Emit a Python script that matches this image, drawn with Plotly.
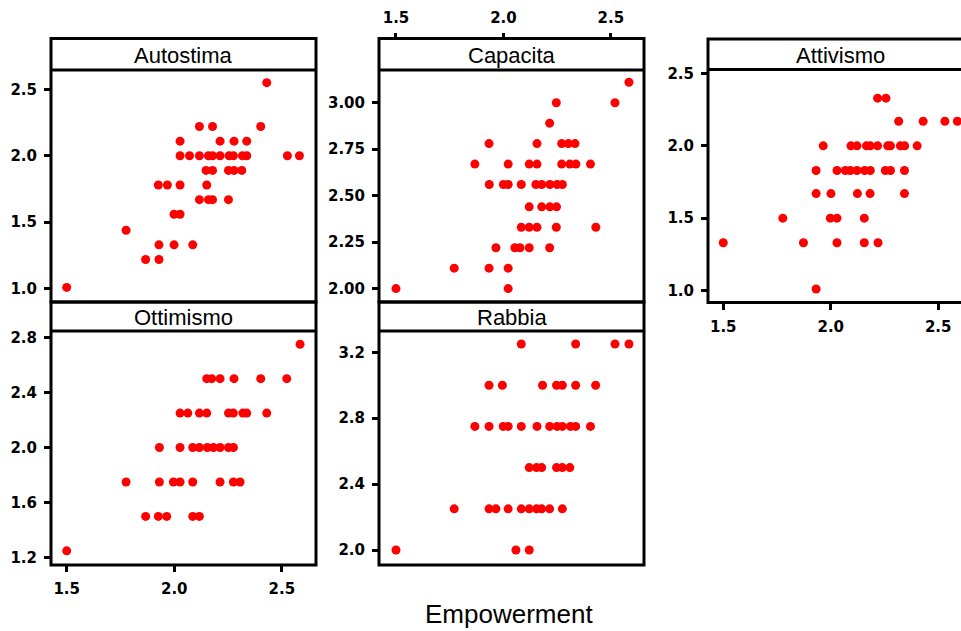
import plotly.graph_objects as go

W, H = 961, 631

# ---- data: Empowerment (x) against each sub-scale (y) ----
autostima_x = [1.50, 1.776, 1.867, 1.929, 1.929, 1.999, 2.086, 1.999, 2.027,
               2.117, 2.159, 2.178, 2.252, 1.926, 1.968, 2.027, 2.151,
               2.148, 2.178, 2.252, 2.278, 2.314,
               2.027, 2.071, 2.117, 2.159, 2.178, 2.213, 2.255, 2.275, 2.317, 2.337, 2.526, 2.582,
               2.027, 2.213, 2.278, 2.337, 2.117, 2.178, 2.402, 2.430]
autostima_y = [1.01, 1.44, 1.22, 1.22, 1.33, 1.33, 1.33, 1.56, 1.56,
               1.67, 1.67, 1.67, 1.67, 1.78, 1.78, 1.78, 1.78,
               1.89, 1.89, 1.89, 1.89, 1.89,
               2.00, 2.00, 2.00, 2.00, 2.00, 2.00, 2.00, 2.00, 2.00, 2.00, 2.00, 2.00,
               2.11, 2.11, 2.11, 2.11, 2.22, 2.22, 2.22, 2.55]

capacita_x = [2.584, 2.246, 2.519, 2.215,
              1.933, 2.156, 2.271, 2.302, 2.333,
              1.867, 2.022, 2.120, 2.156, 2.271, 2.309, 2.337, 2.405,
              1.934, 2.000, 2.022, 2.083, 2.151, 2.178, 2.216, 2.250, 2.274,
              2.120, 2.178, 2.216, 2.247,
              2.083, 2.120, 2.156, 2.246, 2.430,
              1.965, 2.053, 2.077, 2.120, 2.215,
              1.771, 1.933, 2.022,
              1.500, 2.022]
capacita_y = [3.11, 3.00, 3.00, 2.89,
              2.78, 2.78, 2.78, 2.78, 2.78,
              2.67, 2.67, 2.67, 2.67, 2.67, 2.67, 2.67, 2.67,
              2.56, 2.56, 2.56, 2.56, 2.56, 2.56, 2.56, 2.56, 2.56,
              2.44, 2.44, 2.44, 2.44,
              2.33, 2.33, 2.33, 2.33, 2.33,
              2.22, 2.22, 2.22, 2.22, 2.22,
              2.11, 2.11, 2.11,
              2.00, 2.00]

attivismo_x = [2.218, 2.257,
               2.316, 2.430, 2.531, 2.589,
               1.965, 2.094, 2.122, 2.166, 2.184, 2.218, 2.265, 2.278, 2.324, 2.344, 2.402,
               1.932, 2.029, 2.068, 2.091, 2.122, 2.158, 2.184, 2.254, 2.278, 2.343,
               1.932, 2.001, 2.124, 2.183, 2.343,
               1.777, 1.998, 2.029, 2.156,
               1.500, 1.873, 2.029, 2.156, 2.220,
               1.932]
attivismo_y = [2.33, 2.33,
               2.17, 2.17, 2.17, 2.17,
               2.00, 2.00, 2.00, 2.00, 2.00, 2.00, 2.00, 2.00, 2.00, 2.00, 2.00,
               1.83, 1.83, 1.83, 1.83, 1.83, 1.83, 1.83, 1.83, 1.83, 1.83,
               1.67, 1.67, 1.67, 1.67, 1.67,
               1.50, 1.50, 1.50, 1.50,
               1.33, 1.33, 1.33, 1.33, 1.33,
               1.01]

ottimismo_x = [2.585,
               2.151, 2.174, 2.213, 2.278, 2.402, 2.523,
               2.027, 2.063, 2.117, 2.151, 2.252, 2.275, 2.319, 2.337, 2.430,
               1.931, 2.027, 2.086, 2.117, 2.154, 2.182, 2.213, 2.252, 2.275,
               1.776, 1.931, 1.996, 2.027, 2.086, 2.213, 2.275, 2.306,
               1.867, 1.926, 1.965, 2.086, 2.117,
               1.500]
ottimismo_y = [2.75,
               2.50, 2.50, 2.50, 2.50, 2.50, 2.50,
               2.25, 2.25, 2.25, 2.25, 2.25, 2.25, 2.25, 2.25, 2.25,
               2.00, 2.00, 2.00, 2.00, 2.00, 2.00, 2.00, 2.00, 2.00,
               1.75, 1.75, 1.75, 1.75, 1.75, 1.75, 1.75, 1.75,
               1.50, 1.50, 1.50, 1.50, 1.50,
               1.25]

rabbia_x = [2.083, 2.336, 2.519, 2.584,
            1.933, 1.995, 2.182, 2.247, 2.274, 2.336, 2.429,
            1.867, 1.933, 1.999, 2.022, 2.083, 2.156, 2.215, 2.250, 2.274, 2.312, 2.336, 2.405,
            2.120, 2.154, 2.178, 2.247, 2.274, 2.309,
            1.771, 1.933, 1.965, 2.022, 2.083, 2.120, 2.154, 2.178, 2.215, 2.274,
            1.500, 2.058, 2.120]
rabbia_y = [3.25, 3.25, 3.25, 3.25,
            3.00, 3.00, 3.00, 3.00, 3.00, 3.00, 3.00,
            2.75, 2.75, 2.75, 2.75, 2.75, 2.75, 2.75, 2.75, 2.75, 2.75, 2.75, 2.75,
            2.50, 2.50, 2.50, 2.50, 2.50, 2.50,
            2.25, 2.25, 2.25, 2.25, 2.25, 2.25, 2.25, 2.25, 2.25, 2.25,
            2.00, 2.00, 2.00]

x_ticks = [1.5, 2.0, 2.5]
x_title = "Empowerment"


def fx(p):
    return p / W


def fy(p):
    return 1 - p / H


# panel geometry in pixels: (left, right), strip top, strip bottom, plot bottom
panels = [
    dict(title="Autostima", x=autostima_x, y=autostima_y,
         px=(51, 316), strip=(38.5, 70), bottom=302, xr=(1.427, 2.659),
         yr=(0.90, 2.645), tick0=1.0, dtick=0.5, fmt=".1f", xside=None),
    dict(title="Capacita", x=capacita_x, y=capacita_y,
         px=(379, 644), strip=(38.5, 70), bottom=302, xr=(1.421, 2.654),
         yr=(1.928, 3.176), tick0=2.0, dtick=0.25, fmt=".2f", xside="top"),
    dict(title="Attivismo", x=attivismo_x, y=attivismo_y,
         px=(708, 961), strip=(39, 69.5), bottom=302.5, xr=(1.429, 2.606),
         yr=(0.917, 2.528), tick0=1.0, dtick=0.5, fmt=".1f", xside="bottom",
         open_right=True),
    dict(title="Ottimismo", x=ottimismo_x, y=ottimismo_y,
         px=(51, 316), strip=(302, 331), bottom=565, xr=(1.427, 2.659),
         yr=(1.147, 2.846), tick0=1.2, dtick=0.4, fmt=".1f", xside="bottom"),
    dict(title="Rabbia", x=rabbia_x, y=rabbia_y,
         px=(379, 644), strip=(302, 331), bottom=565, xr=(1.421, 2.654),
         yr=(1.909, 3.329), tick0=2.0, dtick=0.4, fmt=".1f", xside=None),
]

tick_font = dict(family="DejaVu Sans", size=15, color="black", weight="bold")
title_font = dict(family="Liberation Sans", size=22, color="black")

fig = go.Figure()
shapes = []
annotations = []
layout = {}

for i, p in enumerate(panels, start=1):
    xa = "x" if i == 1 else f"x{i}"
    ya = "y" if i == 1 else f"y{i}"
    xkey = "xaxis" if i == 1 else f"xaxis{i}"
    ykey = "yaxis" if i == 1 else f"yaxis{i}"
    left, right = p["px"]
    s_top, s_bot = p["strip"]
    bot = p["bottom"]

    fig.add_trace(go.Scatter(
        x=p["x"], y=p["y"], mode="markers", xaxis=xa, yaxis=ya,
        marker=dict(color="#FF0000", size=9, line=dict(width=0)),
        showlegend=False, hoverinfo="x+y"))

    xaxis = dict(domain=[fx(left), fx(right)], range=list(p["xr"]),
                 anchor=ya, showgrid=False, zeroline=False, showline=False,
                 tickvals=x_ticks, tickformat=".1f", tickfont=tick_font,
                 ticks="", showticklabels=False, automargin=False)
    if p["xside"] == "bottom":
        xaxis.update(ticks="outside", ticklen=6, tickwidth=3, tickcolor="black",
                     showticklabels=True, side="bottom", ticklabelstandoff=4)
    elif p["xside"] == "top":
        xaxis.update(ticks="outside", ticklen=6, tickwidth=3, tickcolor="black",
                     showticklabels=True, side="top", anchor="free",
                     position=fy(s_top), ticklabelstandoff=4)
    layout[xkey] = xaxis

    layout[ykey] = dict(domain=[fy(bot), fy(s_bot)], range=list(p["yr"]),
                        anchor=xa, showgrid=False, zeroline=False, showline=False,
                        tick0=p["tick0"], dtick=p["dtick"], tickformat=p["fmt"],
                        ticks="outside", ticklen=6, tickwidth=3, tickcolor="black",
                        tickfont=tick_font, ticklabelstandoff=4, automargin=False)

    # panel frame and strip
    r_edge = right + 14 if p.get("open_right") else right
    shapes.append(dict(type="rect", xref="paper", yref="paper",
                       x0=fx(left), x1=fx(r_edge), y0=fy(bot), y1=fy(s_top),
                       line=dict(color="black", width=3), fillcolor="rgba(0,0,0,0)",
                       layer="above"))
    shapes.append(dict(type="line", xref="paper", yref="paper",
                       x0=fx(left), x1=fx(r_edge), y0=fy(s_bot), y1=fy(s_bot),
                       line=dict(color="black", width=3), layer="above"))
    strip_right = right if not p.get("open_right") else left + 265
    annotations.append(dict(text=p["title"], xref="paper", yref="paper",
                            x=fx((left + strip_right) / 2), y=fy((s_top + s_bot) / 2 + 1),
                            xanchor="center", yanchor="middle", showarrow=False,
                            font=title_font))

annotations.append(dict(text=x_title, xref="paper", yref="paper",
                        x=fx(509), y=fy(614), xanchor="center", yanchor="middle",
                        showarrow=False,
                        font=dict(family="Liberation Sans", size=26, color="black")))

fig.update_layout(
    width=W, height=H, autosize=False,
    margin=dict(l=0, r=0, t=0, b=0, pad=0, autoexpand=False),
    paper_bgcolor="white", plot_bgcolor="white",
    shapes=shapes, annotations=annotations,
    **layout)

fig.write_html("out.html")
